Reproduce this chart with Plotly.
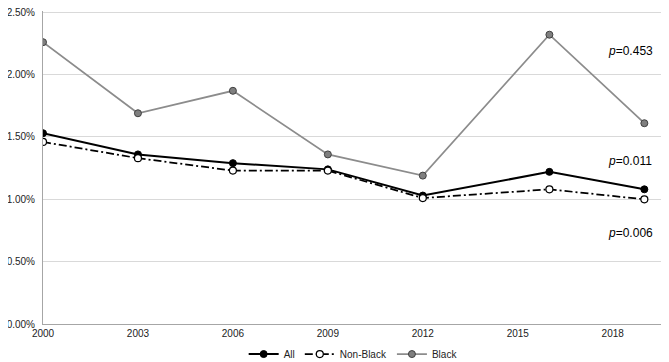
import plotly.graph_objects as go

years = [2000, 2003, 2006, 2009, 2012, 2016, 2019]
all_vals = [1.53, 1.36, 1.29, 1.24, 1.03, 1.22, 1.08]
nonblack_vals = [1.46, 1.33, 1.23, 1.23, 1.01, 1.08, 1.00]
black_vals = [2.26, 1.69, 1.87, 1.36, 1.19, 2.32, 1.61]
x_ticks = [2000, 2003, 2006, 2009, 2012, 2015, 2018]
y_ticks = [0, 0.5, 1.0, 1.5, 2.0, 2.5]
p_labels = ["0.453", "0.011", "0.006"]
p_label_y = [2.19, 1.31, 0.73]

def pct(v):
    return [x / 100 for x in v]

fig = go.Figure()
fig.add_trace(go.Scatter(
    x=years, y=pct(all_vals), name="All", mode="lines+markers",
    line=dict(color="black", width=2),
    marker=dict(color="black", size=7, line=dict(color="black", width=1)),
))
fig.add_trace(go.Scatter(
    x=years, y=pct(nonblack_vals), name="Non-Black", mode="lines+markers",
    line=dict(color="black", width=1.75, dash="8px,3px,2px,3px"),
    marker=dict(color="white", size=7, line=dict(color="black", width=1.2)),
))
fig.add_trace(go.Scatter(
    x=years, y=pct(black_vals), name="Black", mode="lines+markers",
    line=dict(color="#8c8c8c", width=1.75),
    marker=dict(color="#7f7f7f", size=7, line=dict(color="#404040", width=1)),
))

for lab, yv in zip(p_labels, p_label_y):
    fig.add_annotation(
        x=2018.55, y=yv / 100, xref="x", yref="y", showarrow=False,
        text="<i>p</i>=" + lab, font=dict(family="Liberation Sans, Arial", size=12, color="black"),
    )

fig.update_layout(
    width=669, height=362,
    margin=dict(l=35, r=1, t=3, b=36),
    paper_bgcolor="white", plot_bgcolor="white",
    font=dict(family="Liberation Sans, Arial", size=10, color="#222"),
    showlegend=True,
    legend=dict(orientation="h", x=0.49, xanchor="center", y=-0.096, yanchor="middle",
                font=dict(size=10), traceorder="normal"),
)
fig.update_xaxes(
    range=[2000, 2020], tickvals=x_ticks, ticktext=[str(t) for t in x_ticks],
    showgrid=False, showline=True, linecolor="#a6a6a6", linewidth=1,
    ticks="", zeroline=False, tickfont=dict(size=10, color="#222"),
    automargin=False,
)
fig.update_yaxes(
    range=[0, 0.0251], tickvals=pct(y_ticks), tickformat=".2%",
    showgrid=True, gridcolor="#d9d9d9", gridwidth=1,
    showline=True, linecolor="#a6a6a6", linewidth=1,
    ticks="", zeroline=False, tickfont=dict(size=10, color="#222"),
    automargin=False, ticklabelstandoff=5, ticklabeloverflow="allow",
)

fig.write_html("out.html")
